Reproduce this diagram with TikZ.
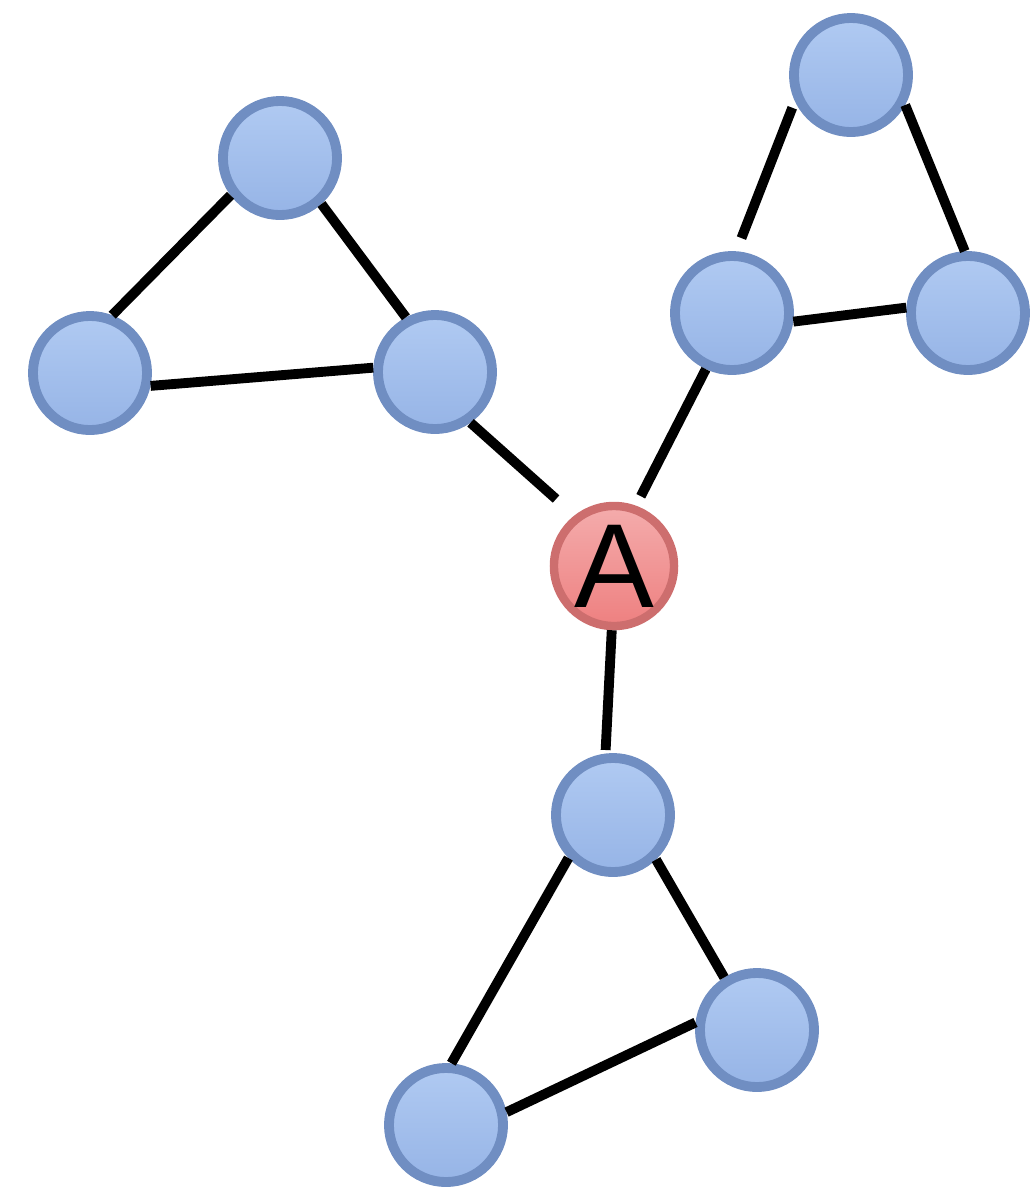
\documentclass[tikz,border=0pt]{standalone}
\usepackage{fontspec}
\setmainfont{Liberation Sans}
\definecolor{bfilltop}{RGB}{176,202,242}
\definecolor{bfillbot}{RGB}{150,180,230}
\definecolor{bline}{RGB}{112,142,194}
\definecolor{rfilltop}{RGB}{244,172,172}
\definecolor{rfillbot}{RGB}{238,128,128}
\definecolor{rline}{RGB}{205,110,110}
\begin{document}
\begin{tikzpicture}[x=0.01cm,y=-0.01cm,
  bnode/.style={circle,draw=bline,line width=2.8pt,top color=bfilltop,bottom color=bfillbot,minimum size=1.14cm,inner sep=0pt},
  anode/.style={circle,draw=rline,line width=2.4pt,top color=rfilltop,bottom color=rfillbot,minimum size=1.2cm,inner sep=0pt,font=\fontsize{34}{34}\selectfont},
  edge/.style={line width=2.8pt,black}]
\useasboundingbox (0,0) rectangle (1031,1193);
\node[bnode] (t1) at (280,158) {};
\node[bnode] (t2) at (90,373) {};
\node[bnode] (t3) at (435,372) {};
\node[bnode] (r1) at (851,75) {};
\node[bnode] (r2) at (732,313) {};
\node[bnode] (r3) at (968,313) {};
\node[anode] (a) at (614,566) {A};
\node[bnode] (b1) at (613,815) {};
\node[bnode] (b2) at (757,1030) {};
\node[bnode] (b3) at (446,1125) {};
\draw[edge] (t1.217) -- (t2.69);
\draw[edge] (t1.-48) -- (t3.118);
\draw[edge] (t2.-12) -- (t3.176);
\draw[edge,shorten >=7pt] (t3.-55) -- (a.128);
\draw[edge,shorten <=3pt] (a.70) -- (r2.-115);
\draw[edge,shorten <=4pt,shorten >=2pt] (r2.86) -- (r1.205);
\draw[edge] (r1.-29) -- (r3.93);
\draw[edge] (r2.-8) -- (r3.175);
\draw[edge,shorten >=1pt] (a.-92) -- (b1.97);
\draw[edge] (b1.-46) -- (b2.122);
\draw[edge] (b1.224) -- (b3.85);
\draw[edge] (b2.173) -- (b3.12);
\end{tikzpicture}
\end{document}
